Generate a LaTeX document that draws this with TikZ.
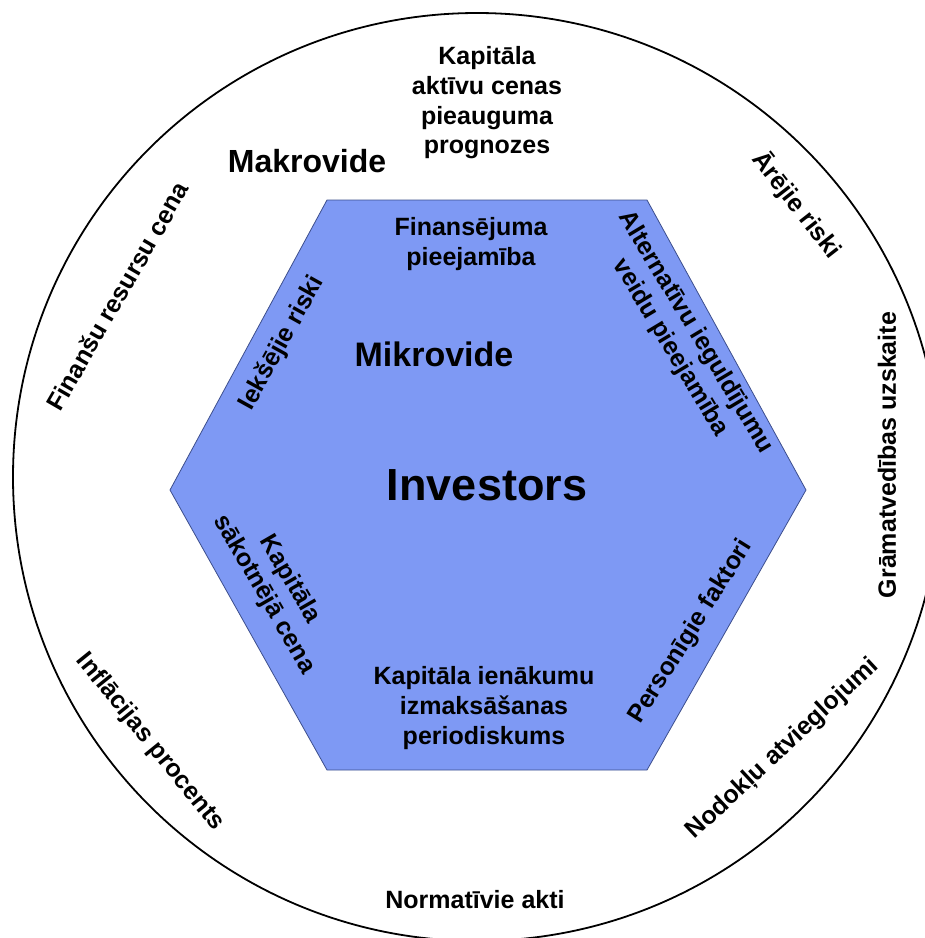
\documentclass[tikz,border=0pt]{standalone}
\usepackage{fontspec}
\setmainfont{Liberation Sans}
\usepackage{tikz}
\definecolor{hexblue}{HTML}{7E99F4}
\definecolor{hexedge}{HTML}{3C4E8C}

\begin{document}
\begin{tikzpicture}[
  x=1pt, y=-1pt,
  factor/.style={font=\bfseries\fontsize{25}{29.7}\selectfont, align=center, inner sep=0pt},
  level/.style={font=\bfseries\fontsize{32}{36}\selectfont, inner sep=0pt},
  hexshape/.style={draw=hexedge, line width=0.8pt, fill=hexblue}
]
\useasboundingbox (0,0) rectangle (925,938);
\clip (0,0) rectangle (925,938);

% outer circle and inner hexagon
\draw[line width=1.8pt] (477,477) circle (464);
\draw[hexshape] (170,490) -- (327,200) -- (647,200) -- (806,490) -- (647,770) -- (327,770) -- cycle;

% macro environment
\node[level] (makro) at (307,161) {Makrovide};
\node[factor] (prognozes) at (487,103) {Kapitāla\\aktīvu cenas\\pieauguma\\prognozes};
\node[factor, rotate=60] (resursi) at (117,296) {Finanšu resursu cena};
\node[factor, rotate=-52] (arejie) at (797,205) {Ārējie riski};
\node[factor, rotate=90] (gramatvediba) at (887,455) {Grāmatvedības uzskaite};
\node[factor, rotate=43] (nodokli) at (783,749) {Nodokļu atvieglojumi};
\node[factor] (normativie) at (475,900) {Normatīvie akti};
\node[factor, rotate=-51] (inflacija) at (150,742) {Inflācijas procents};

% micro environment
\node[level, font=\bfseries\fontsize{34}{36}\selectfont] (mikro) at (434,354) {Mikrovide};
\node[font=\bfseries\fontsize{45}{50}\selectfont, inner sep=0pt] (investors) at (487,485) {Investors};
\node[factor] (finansejums) at (471,244) {Finansējuma\\pieejamība};
\node[factor, rotate=61] (ieksejie) at (282,343) {Iekšējie riski};
\node[factor, rotate=-59] (alternativas) at (683,340) {Alternatīvu ieguldījumu\\veidu pieejamība};
\node[factor, rotate=-60] (sakotneja) at (277,587) {Kapitāla\\sākotnējā cena};
\node[factor, rotate=58] (personigie) at (691,632) {Personīgie faktori};
\node[factor] (ienakumi) at (484,708) {Kapitāla ienākumu\\izmaksāšanas\\periodiskums};
\end{tikzpicture}
\end{document}
